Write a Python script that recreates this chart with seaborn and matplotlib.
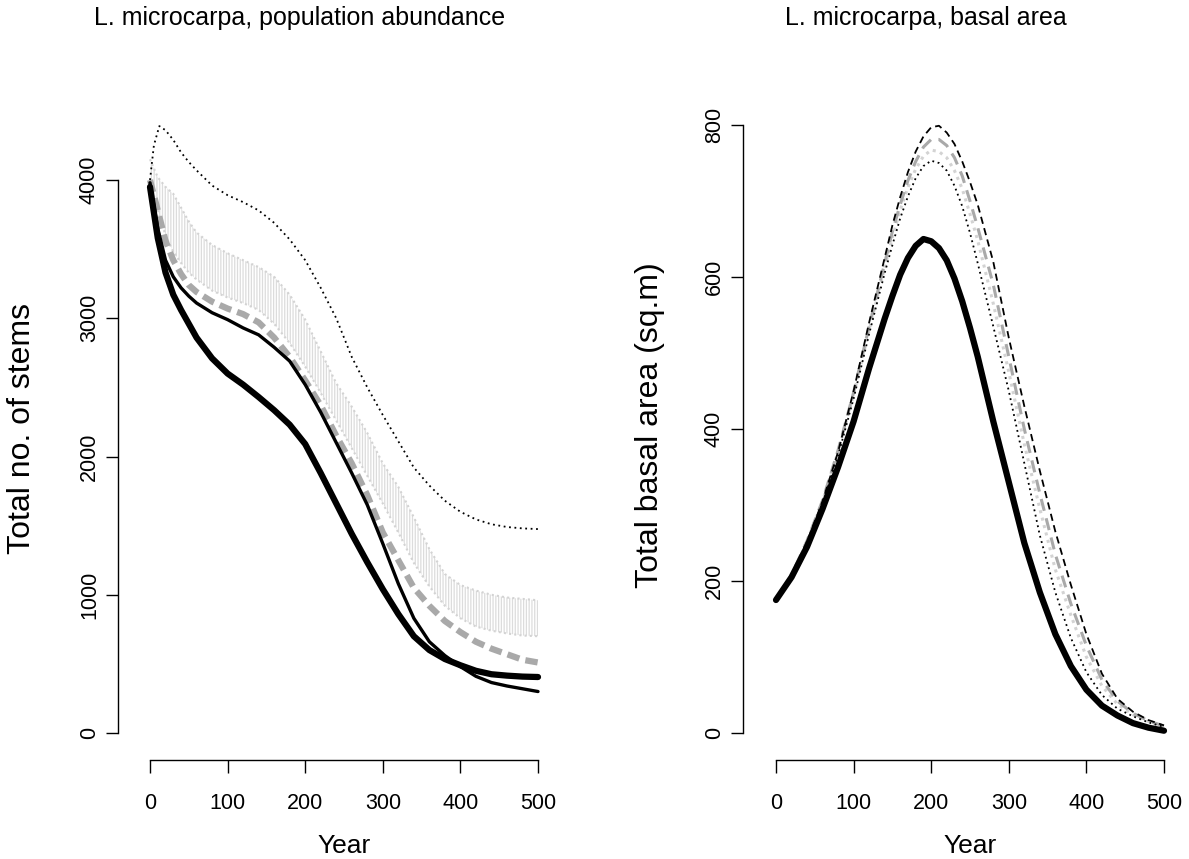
import numpy as np
import pandas as pd
import matplotlib
matplotlib.use("Agg")
import matplotlib.pyplot as plt
import seaborn as sns

# ---------------- data ----------------
years = [0, 10, 20, 30, 40, 50, 60, 80, 100, 120, 140, 160, 180, 200, 220, 240,
         260, 280, 300, 320, 340, 360, 380, 400, 420, 440, 460, 480, 500]

# left panel: total number of stems
stems_thick = [3950, 3580, 3330, 3170, 3060, 2960, 2860, 2710, 2600, 2520, 2430, 2335, 2230, 2090, 1880, 1660,
               1440, 1235, 1040, 860, 700, 600, 535, 490, 450, 425, 415, 408, 405]
stems_black = [3980, 3650, 3420, 3300, 3220, 3160, 3110, 3040, 2990, 2930, 2880, 2790, 2690, 2520, 2320, 2100,
               1880, 1650, 1370, 1080, 830, 660, 560, 480, 410, 365, 340, 320, 300]
stems_grey = [4000, 3780, 3560, 3420, 3320, 3240, 3190, 3120, 3070, 3030, 2970, 2860, 2720, 2550, 2370, 2150,
              1950, 1720, 1450, 1250, 1050, 920, 810, 730, 660, 610, 570, 530, 510]
stems_light_hi = [4150, 4020, 3950, 3900, 3800, 3700, 3620, 3530, 3470, 3420, 3370, 3300, 3170, 2990, 2760, 2530,
                  2360, 2170, 1950, 1780, 1560, 1330, 1150, 1070, 1030, 1000, 980, 970, 960]
stems_light_lo = [4000, 3780, 3600, 3480, 3400, 3330, 3280, 3200, 3150, 3110, 3060, 2960, 2820, 2650, 2460, 2260,
                  2060, 1860, 1660, 1450, 1230, 1060, 920, 830, 770, 740, 720, 705, 700]
years_dot = [0, 5, 12, 20, 30, 40, 50, 60, 80, 100, 120, 140, 160, 180, 200, 220, 240,
             260, 280, 300, 320, 340, 360, 380, 400, 420, 440, 460, 480, 500]
stems_dotted = [4000, 4250, 4390, 4360, 4290, 4200, 4130, 4070, 3960, 3890, 3840, 3780, 3690, 3570, 3420, 3220, 3000,
                2720, 2500, 2300, 2110, 1920, 1790, 1680, 1600, 1545, 1510, 1490, 1480, 1475]

# right panel: total basal area
years_ba = [0, 20, 40, 60, 80, 100, 120, 140, 150, 160, 170, 180, 190, 200, 210, 220, 230, 240, 250, 260,
            280, 300, 320, 340, 360, 380, 400, 420, 440, 460, 480, 500]
ba_thick = [175, 205, 245, 295, 350, 410, 480, 545, 575, 603, 625, 641, 650, 647, 638, 622, 598, 568, 533, 495,
            410, 330, 250, 185, 130, 88, 57, 36, 23, 13, 7, 3]
ba_dotted = [175, 207, 250, 302, 365, 440, 525, 605, 642, 677, 706, 730, 746, 753, 750, 740, 720, 693, 658, 618,
             535, 450, 355, 260, 185, 125, 80, 50, 32, 22, 14, 8]
ba_light = [175, 208, 252, 305, 370, 445, 530, 612, 652, 688, 718, 742, 759, 767, 765, 757, 740, 716, 683, 648,
            565, 475, 380, 295, 215, 155, 100, 62, 38, 24, 15, 8]
ba_grey = [175, 208, 253, 306, 372, 448, 535, 618, 660, 695, 727, 752, 771, 781, 781, 773, 757, 733, 700, 665,
           590, 495, 400, 315, 235, 170, 115, 70, 42, 26, 16, 9]
ba_dashed = [175, 208, 252, 305, 370, 450, 540, 625, 668, 705, 738, 765, 785, 797, 799, 790, 775, 752, 725, 695,
             620, 520, 430, 345, 265, 195, 130, 78, 45, 28, 17, 10]

x_ticks = [0, 100, 200, 300, 400, 500]
stem_ticks = [0, 1000, 2000, 3000, 4000]
ba_ticks = [0, 200, 400, 600, 800]

# ---------------- figure ----------------
sns.set_theme(style="white")
plt.rcParams["font.family"] = ["Liberation Sans", "DejaVu Sans"]
plt.rcParams["hatch.linewidth"] = 0.9
plt.rcParams["hatch.color"] = "#dcdcdc"

W, H = 1189, 859
fig = plt.figure(figsize=(W / 100, H / 100), dpi=100)


def px_axes(x0, x1, y0, y1):
    return fig.add_axes([x0 / W, 1 - y1 / H, (x1 - x0) / W, (y1 - y0) / H])


def style_axes(ax, xb, yb, xt, yt):
    for s in ["top", "right"]:
        ax.spines[s].set_visible(False)
    for s in ["left", "bottom"]:
        ax.spines[s].set_color("black")
        ax.spines[s].set_linewidth(1.0)
    ax.spines["bottom"].set_bounds(*xb)
    ax.spines["left"].set_bounds(*yb)
    ax.set_xticks(xt)
    ax.set_yticks(yt)
    ax.set_xticklabels([str(v) for v in xt])
    ax.set_yticklabels([str(v) for v in yt])
    ax.tick_params(axis="both", which="major", bottom=True, left=True, direction="out",
                   length=9, width=1.0, color="black", labelsize=15.5, labelcolor="black")
    ax.tick_params(axis="x", pad=15)
    ax.tick_params(axis="y", pad=4)
    for lab in ax.get_yticklabels():
        lab.set_rotation(90)
        lab.set_va("center")
    ax.set_xlabel("")
    ax.set_ylabel("")
    ax.grid(False)


# left panel
ax1 = px_axes(118, 570, 90, 760)
ax1.set_xlim((118 - 150) / 0.776, (570 - 150) / 0.776)
ax1.set_ylim((733 - 760) / 0.13825, (733 - 90) / 0.13825)
ax1.fill_between(years, stems_light_lo, stems_light_hi, facecolor="none",
                 edgecolor="#dcdcdc", hatch="||||||", linewidth=0)
sns.lineplot(x=years, y=stems_light_hi, ax=ax1, color="#d3d3d3", lw=1.5, linestyle=(0, (1, 1.5)))
sns.lineplot(x=years, y=stems_light_lo, ax=ax1, color="#d3d3d3", lw=1.5, linestyle=(0, (1, 1.5)))
sns.lineplot(x=years, y=stems_grey, ax=ax1, color="#a9a9a9", lw=4.5, linestyle=(0, (2, 1)))
sns.lineplot(x=years, y=stems_black, ax=ax1, color="black", lw=2.4)
sns.lineplot(x=years, y=stems_thick, ax=ax1, color="black", lw=4.5)
sns.lineplot(x=years_dot, y=stems_dotted, ax=ax1, color="black", lw=1.3, linestyle=(0, (1, 2)))
style_axes(ax1, (0, 500), (0, 4000), x_ticks, stem_ticks)

# right panel
ax2 = px_axes(743, 1180, 90, 760)
ax2.set_xlim((743 - 776) / 0.776, (1180 - 776) / 0.776)
ax2.set_ylim((733 - 760) / 0.76, (733 - 90) / 0.76)
sns.lineplot(x=years_ba, y=ba_light, ax=ax2, color="#d3d3d3", lw=2.2, linestyle=(0, (1, 1.5)))
sns.lineplot(x=years_ba, y=ba_grey, ax=ax2, color="#a9a9a9", lw=2.2, linestyle=(0, (4, 2.5)))
sns.lineplot(x=years_ba, y=ba_dotted, ax=ax2, color="black", lw=1.3, linestyle=(0, (1, 2)))
sns.lineplot(x=years_ba, y=ba_dashed, ax=ax2, color="black", lw=1.3, linestyle=(0, (4, 2.5)))
sns.lineplot(x=years_ba, y=ba_thick, ax=ax2, color="black", lw=4.5)
style_axes(ax2, (0, 500), (0, 800), x_ticks, ba_ticks)

# titles and axis labels
fig.text(300 / W, 1 - 18 / H, "L. microcarpa, population abundance", ha="center", va="center",
         fontsize=18, color="black")
fig.text(926 / W, 1 - 18 / H, "L. microcarpa, basal area", ha="center", va="center",
         fontsize=18, color="black")
fig.text(344 / W, 1 - 846 / H, "Year", ha="center", va="center", fontsize=19, color="black")
fig.text(970 / W, 1 - 846 / H, "Year", ha="center", va="center", fontsize=19, color="black")
fig.text(22 / W, 1 - 429 / H, "Total no. of stems", ha="center", va="center", rotation=90,
         fontsize=23, color="black")
fig.text(650 / W, 1 - 425 / H, "Total basal area (sq.m)", ha="center", va="center", rotation=90,
         fontsize=23, color="black")

fig.savefig("out.png", dpi=100, facecolor="white")
